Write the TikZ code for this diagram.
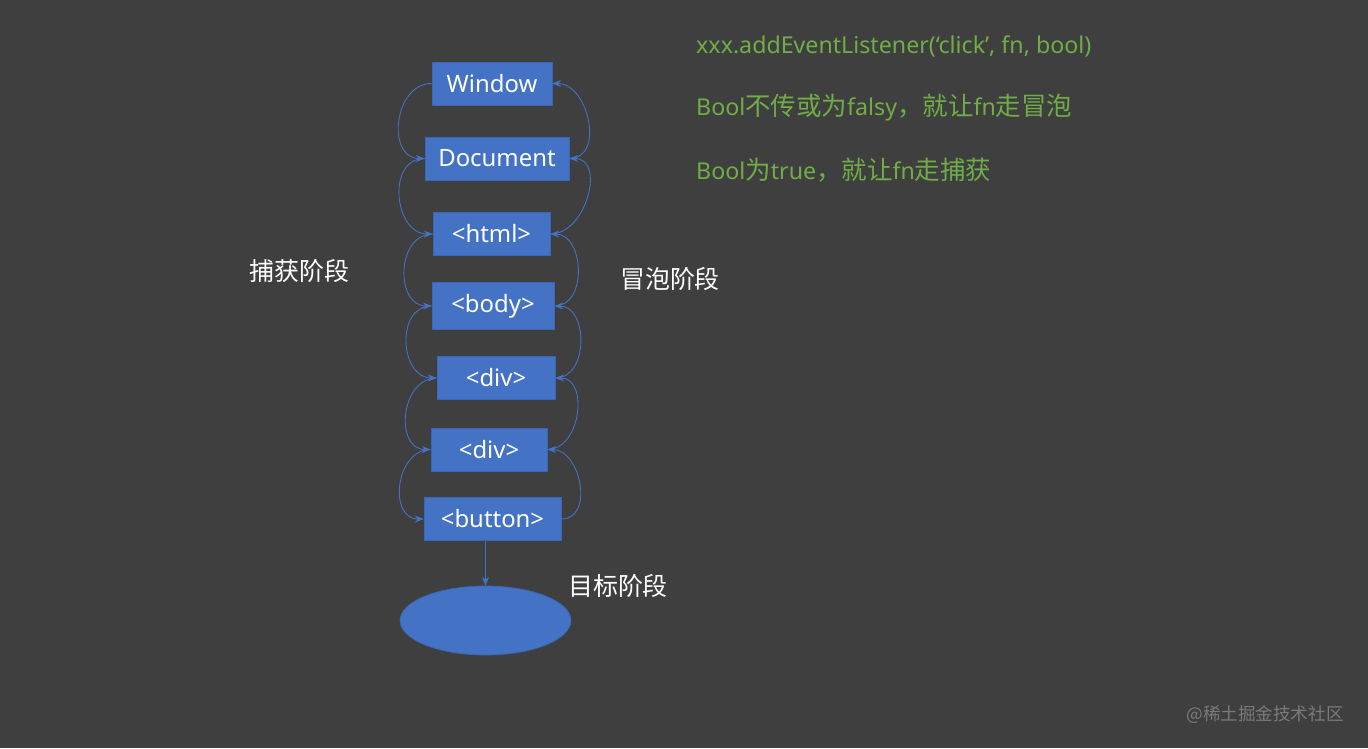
\documentclass[tikz,border=0pt]{standalone}
\usepackage{fontspec}
\setmainfont{Noto Sans}
\newfontfamily\cjkfont{Noto Sans CJK SC}
\newcommand\hanzi[1]{{\cjkfont\fontsize{14.5}{17}\selectfont #1}}
\usepackage{tikz}
\usetikzlibrary{arrows.meta,positioning,shapes.geometric}
\definecolor{SlideBg}{HTML}{3F3F3F}
\definecolor{BoxBlue}{HTML}{4472C4}
\definecolor{BoxEdge}{HTML}{3A66B5}
\definecolor{NoteGreen}{HTML}{70AD47}
\definecolor{MarkGray}{HTML}{7A7A7A}

\begin{document}
\begin{tikzpicture}[
    x=0.02cm, y=-0.02cm,
    elem/.style={
      draw=BoxEdge,
      fill=BoxBlue,
      minimum height=0.86cm,
      inner sep=0pt,
      text=white,
      font=\fontsize{13.6}{16}\selectfont
    },
    phase/.style={
      text=white,
      font=\cjkfont\fontsize{14.2}{17}\selectfont
    },
    note/.style={
      anchor=west,
      text=NoteGreen,
      font=\fontsize{13.2}{16}\selectfont
    },
    flow/.style={
      draw=BoxBlue,
      line width=0.5pt,
      -{Stealth[length=5pt,width=4pt]}
    }
  ]

  % Background
  \fill[SlideBg] (0,0) rectangle (1368,748);
  \useasboundingbox (0,0) rectangle (1368,748);

  % Elements
  \node[elem,minimum width=2.40cm] (win)  at (492,83.5)  {Window};
  \node[elem,minimum width=2.88cm] (doc)  at (497,158.5) {Document};
  \node[elem,minimum width=2.34cm] (html) at (491.5,234) {<html>};
  \node[elem,minimum width=2.44cm,minimum height=0.94cm] (body) at (493,306) {<body>};
  \node[elem,minimum width=2.36cm] (div1) at (496,378)   {<div>};
  \node[elem,minimum width=2.32cm] (div2) at (489,449.5) {<div>};
  \node[elem,minimum width=2.74cm] (btn)  at (492.5,519) {<button>};

  % Target
  \node[ellipse,draw=BoxEdge,fill=BoxBlue,minimum width=3.42cm,
        minimum height=1.38cm,inner sep=0pt] (target) at (485.5,620.5) {};

  % Capture (left side)
  \draw[flow] (win.west)  to[out=180,in=180,looseness=1.3] (doc.west);
  \draw[flow] (doc.west)  to[out=180,in=180,looseness=1.3] (html.west);
  \draw[flow] (html.west) to[out=180,in=180,looseness=1.3] (body.west);
  \draw[flow] (body.west) to[out=180,in=180,looseness=1.3] (div1.west);
  \draw[flow] (div1.west) to[out=180,in=180,looseness=1.3] (div2.west);
  \draw[flow] (div2.west) to[out=180,in=180,looseness=1.3] (btn.west);

  % Bubble (right side)
  \draw[flow] (doc.east)  to[out=0,in=0,looseness=1.2] (win.east);
  \draw[flow] (html.east) to[out=0,in=0,looseness=1.2] (doc.east);
  \draw[flow] (body.east) to[out=0,in=0,looseness=1.2] (html.east);
  \draw[flow] (div1.east) to[out=0,in=0,looseness=1.2] (body.east);
  \draw[flow] (div2.east) to[out=0,in=0,looseness=1.2] (div1.east);
  \draw[flow] (btn.east)  to[out=0,in=0,looseness=1.2] (div2.east);

  % Target arrow
  \draw[flow] (btn.south -| target.north) -- (target.north);

  % Phase labels
  \node[phase] (cap) at (299.5,271) {捕获阶段};
  \node[phase] (bub) at (670,279)   {冒泡阶段};
  \node[phase] (tgt) at (618,586)   {目标阶段};

  % Notes
  \node[note] (api)   at (690,46)  {xxx.addEventListener(‘click’, fn, bool)};
  \node[note] (falsy) at (690,108) {Bool\hanzi{不传或为}falsy\hanzi{，就让}fn\hanzi{走冒泡}};
  \node[note] (truth) at (690,170) {Bool\hanzi{为}true\hanzi{，就让}fn\hanzi{走捕获}};

  % Watermark
  \node[text=MarkGray,font=\cjkfont\fontsize{10}{12}\selectfont] (mark)
    at (1265,715) {@稀土掘金技术社区};

\end{tikzpicture}
\end{document}
